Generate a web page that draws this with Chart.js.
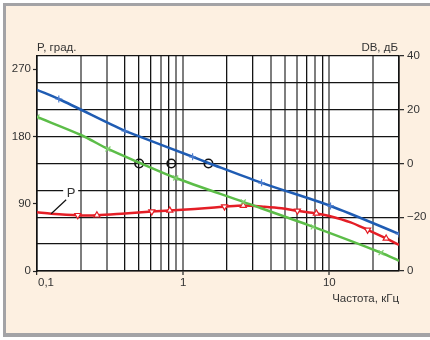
<!DOCTYPE html>
<html>
<head>
<meta charset="utf-8">
<script src="https://cdn.jsdelivr.net/npm/chart.js@4.4.0/dist/chart.umd.min.js"></script>
<style>
  html, body { margin: 0; padding: 0; background: #fff; overflow: hidden; }
  canvas { display: block; }
</style>
</head>
<body>
<canvas id="c" width="430" height="340"></canvas>
<script>
// Frequency response: two gain curves (dB, right axis) and the phase curve P (degrees, left axis)

// Blue gain curve
const blueFreq = [0.1, 0.141, 0.4, 0.5, 1.16, 1.49, 3.44, 10.2, 30];
const blueDb   = [27.4, 24.0, 12.1, 10.1, 2.5, 0.2, -7.2, -15.8, -26.2];
const blueMarks = [1, 2, 4, 6, 7, 8];

// Green gain curve
const greenFreq = [0.1, 0.2, 0.306, 0.506, 0.89, 2.58, 7.77, 22.6, 30];
const greenDb   = [17.3, 10.6, 5.4, 0.2, -5.4, -14.3, -23.6, -33.2, -36.2];
const greenMarks = [0, 2, 4, 5, 6, 7];

// Phase curve P
const redFreq = [0.1, 0.125, 0.19, 0.257, 0.4, 0.61, 0.81, 1.2, 1.64, 1.92, 2.58, 3.6, 4.72, 6.05, 8.16, 10, 14, 18.3, 24.5, 30];
const redDeg  = [78.5, 76.6, 74.5, 74.5, 77, 79.5, 81, 83, 85, 86, 87.5, 86, 84, 80.5, 77, 73.5, 65, 55, 43.5, 35];
const redDownMarks = [2, 5, 9, 13, 17];
const redUpMarks   = [3, 6, 10, 14, 18];
const pLabelIndex = 1;

// 0 dB crossing points
const crossFreq = [0.5, 0.83, 1.49];
const crossDb   = [0, 0, 0];

// Axes
const xGridVals = [0.1, 0.2, 0.3, 0.4, 0.5, 0.6, 0.7, 0.8, 0.9, 1, 2, 3, 4, 5, 6, 7, 8, 9, 10, 20, 30];
const xGridTone = ['k','g','g','k','k','k','g','k','g','g','k','k','g','g','g','k','g','k','g','g','k'];
const xLabelVals = [0.1, 1, 10];
const xLabels    = ['0,1', '1', '10'];
const leftTickVals = [0, 90, 180, 270];
const rightGridVals = [-40, -30, -20, -10, 0, 10, 20, 30, 40];
const rightLabelVals = [40, 20, 0, -20, -40];
const rightLabels    = ['40', '20', '0', '\u221220', '0'];

const W = 430, H = 340;
const FONT = "'Liberation Sans', Arial, sans-serif";
const TEXT = '#333';
const BLUE = '#1f5cb3', GREEN = '#5cbd48', RED = '#e41e26';

const pts = (xs, ys) => xs.map((x, i) => ({ x, y: ys[i] }));
const markRadius = (n, marks, r) => Array.from({ length: n }, (_, i) => marks.includes(i) ? r : 0);

const framePlugin = {
  id: 'frame',
  beforeDraw(chart) {
    const c = chart.ctx, a = chart.chartArea;
    c.save();
    c.fillStyle = '#fff';
    c.fillRect(0, 0, W, H);
    c.fillStyle = '#fdf0e1';
    c.fillRect(5, 5, W - 5, 329);
    c.fillStyle = '#a3a3a6';
    c.fillRect(3, 3, W - 3, 3);
    c.fillRect(3, 3, 3, 334);
    c.fillRect(3, 333, W - 3, 4);
    c.fillStyle = '#fff';
    c.fillRect(a.left, a.top, a.right - a.left, a.bottom - a.top);
    c.restore();
  },
  afterDraw(chart) {
    const c = chart.ctx, a = chart.chartArea;
    const xs = chart.scales.x;
    c.save();
    c.fillStyle = TEXT;
    c.font = '11.5px ' + FONT;
    c.textBaseline = 'alphabetic';
    c.textAlign = 'left';
    c.fillText('P, град.', a.left, a.top - 5);
    c.textAlign = 'right';
    c.fillText('DB, дБ', a.right - 1, a.top - 5);
    c.fillText('Частота, кГц', a.right, a.bottom + 31);
    xLabelVals.forEach((v, i) => {
      c.textAlign = i === 0 ? 'left' : 'center';
      c.fillText(xLabels[i], xs.getPixelForValue(v) + (i === 0 ? 1 : 0), a.bottom + 15);
    });
    c.restore();
  },
  afterDatasetsDraw(chart) {
    const c = chart.ctx;
    const meta = chart.getDatasetMeta(2);
    const p = meta.data[pLabelIndex];
    c.save();
    c.fillStyle = '#fff';
    c.fillRect(p.x + 12, p.y - 27, 15, 14);
    c.strokeStyle = '#111';
    c.lineWidth = 1.2;
    c.beginPath();
    c.moveTo(p.x, p.y);
    c.lineTo(p.x + 15, p.y - 14);
    c.stroke();
    c.fillStyle = TEXT;
    c.font = '13px ' + FONT;
    c.textAlign = 'center';
    c.textBaseline = 'middle';
    c.fillText('P', p.x + 20, p.y - 20);
    c.restore();
  }
};

new Chart(document.getElementById('c'), {
  type: 'line',
  data: {
    datasets: [
      {
        label: 'blue', data: pts(blueFreq, blueDb), yAxisID: 'yR',
        borderColor: BLUE, borderWidth: 2.5, tension: 0.3,
        pointStyle: 'cross', pointRadius: markRadius(blueFreq.length, blueMarks, 3.5),
        pointBorderColor: '#4f7fd0', pointBorderWidth: 1.2, pointBackgroundColor: '#fff'
      },
      {
        label: 'green', data: pts(greenFreq, greenDb), yAxisID: 'yR',
        borderColor: GREEN, borderWidth: 2.5, tension: 0.3,
        pointStyle: 'crossRot', pointRadius: markRadius(greenFreq.length, greenMarks, 3.5),
        pointBorderColor: '#7fcf6e', pointBorderWidth: 1.2, pointBackgroundColor: '#fff'
      },
      {
        label: 'P', data: pts(redFreq, redDeg), yAxisID: 'yL',
        borderColor: RED, borderWidth: 2.5, tension: 0.3,
        pointStyle: 'triangle',
        pointRotation: redFreq.map((_, i) => redDownMarks.includes(i) ? 180 : 0),
        pointRadius: redFreq.map((_, i) => (redDownMarks.includes(i) || redUpMarks.includes(i)) ? 3.5 : 0),
        pointBorderColor: RED, pointBorderWidth: 1.2, pointBackgroundColor: '#fff'
      },
      {
        label: 'cross', data: pts(crossFreq, crossDb), yAxisID: 'yR',
        showLine: false, pointStyle: 'circle', pointRadius: 4.2,
        pointBorderColor: '#111', pointBorderWidth: 1.6, pointBackgroundColor: 'rgba(255,255,255,0)'
      }
    ]
  },
  options: {
    responsive: false,
    devicePixelRatio: 1,
    animation: false,
    events: [],
    layout: { padding: { top: 56, bottom: 39, left: 0, right: 0 } },
    plugins: { legend: { display: false }, tooltip: { enabled: false } },
    scales: {
      x: {
        type: 'logarithmic', position: 'bottom', min: 0.1, max: 30,
        afterBuildTicks: s => { s.ticks = xGridVals.map(v => ({ value: v })); },
        afterFit: s => { s.height = 30; },
        ticks: { autoSkip: false, maxRotation: 0, callback: () => '' },
        grid: {
          color: ctx => (xGridTone[ctx.index] === 'g' ? '#7e7e7e' : '#141414'),
          lineWidth: ctx => (xGridTone[ctx.index] === 'g' ? 2 : 1.3),
          tickColor: ctx => (ctx.tick && xLabelVals.includes(ctx.tick.value) ? '#222' : 'rgba(0,0,0,0)'),
          tickWidth: 1.2,
          tickLength: 4
        },
        border: { color: '#111', width: 1.6 }
      },
      yL: {
        type: 'linear', position: 'left', min: 0, max: 287.4,
        afterBuildTicks: s => { s.ticks = leftTickVals.map(v => ({ value: v })); },
        afterFit: s => { s.width = 37; },
        ticks: { padding: 2, color: TEXT, font: { family: FONT, size: 11.5 }, callback: v => String(v) },
        grid: { drawOnChartArea: false, tickLength: 4, tickColor: '#222', tickWidth: 1.2 },
        border: { color: '#111', width: 1.6 }
      },
      yR: {
        type: 'linear', position: 'right', min: -40, max: 40,
        afterBuildTicks: s => { s.ticks = rightGridVals.map(v => ({ value: v })); },
        afterFit: s => { s.width = 31; },
        ticks: {
          padding: 3, color: TEXT, font: { family: FONT, size: 11.5 },
          callback: v => { const k = rightLabelVals.indexOf(v); return k < 0 ? '' : rightLabels[k]; }
        },
        grid: {
          color: '#141414', lineWidth: 1.3, tickLength: 5, tickWidth: 1.2,
          tickColor: ctx => (ctx.tick && rightLabelVals.includes(ctx.tick.value) ? '#222' : 'rgba(0,0,0,0)')
        },
        border: { color: '#111', width: 1.6 }
      }
    }
  },
  plugins: [framePlugin]
});
</script>
</body>
</html>
